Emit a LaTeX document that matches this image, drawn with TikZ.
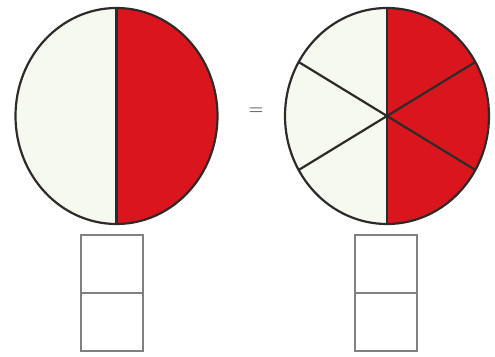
\documentclass[tikz,border=0pt]{standalone}
\begin{document}
\begin{tikzpicture}[x=1pt,y=1pt,
  rim/.style={draw=rimC,line width=2.2pt},
  spoke/.style={draw=rimC,line width=2.2pt},
  boxline/.style={draw=boxC,line width=2pt}]
\definecolor{paleC}{HTML}{F5F9EF}
\definecolor{redC}{HTML}{D9161D}
\definecolor{rimC}{HTML}{2E2A2A}
\definecolor{boxC}{HTML}{808080}
\useasboundingbox (0,0) rectangle (495,356);
% left circle
\coordinate (L) at (116.5,240);
\fill[paleC] (L) ellipse[x radius=101,y radius=108];
\fill[redC] (L) ++(0,108) arc[start angle=90,end angle=-90,x radius=101,y radius=108] -- cycle;
\draw[spoke] (L) ++(0,108) -- ++(0,-216);
\draw[rim] (L) ellipse[x radius=101,y radius=108];
% right circle
\coordinate (R) at (387,240);
\fill[paleC] (R) ellipse[x radius=102,y radius=108];
\fill[redC] (R) ++(0,108) arc[start angle=90,end angle=-90,x radius=102,y radius=108] -- cycle;
\foreach \a in {30,150,210,330}{
  \draw[spoke] (R) -- ++({102*cos(\a)},{108*sin(\a)});
}
\draw[spoke] (R) ++(0,108) -- ++(0,-216);
\draw[rim] (R) ellipse[x radius=102,y radius=108];
\fill[rimC] (R) circle[radius=2.5];
% equals
\node[text=boxC!70!black,font=\fontsize{17}{17}\selectfont\bfseries,inner sep=0] (eq) at (256,245) {=};
% boxes
\node[boxline,minimum width=62,minimum height=58,inner sep=0] (lb1) at (112,92) {};
\node[boxline,minimum width=62,minimum height=58,inner sep=0] (lb2) at (112,34) {};
\node[boxline,minimum width=62,minimum height=58,inner sep=0] (rb1) at (386,92) {};
\node[boxline,minimum width=62,minimum height=58,inner sep=0] (rb2) at (386,34) {};
\end{tikzpicture}
\end{document}
